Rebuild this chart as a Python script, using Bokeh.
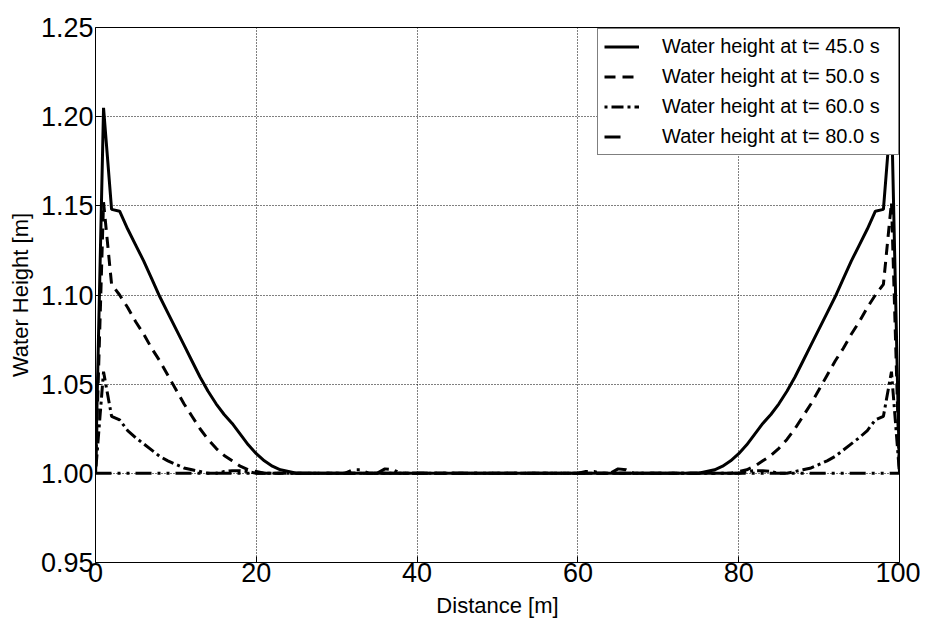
from bokeh.plotting import figure
from bokeh.models import Legend, LegendItem, Range1d, FixedTicker
from bokeh.embed import file_html
from bokeh.resources import INLINE

# ---- data ----
x_t45 = [0, 1, 2, 3, 4, 5, 6, 7, 8, 9, 10, 11, 12, 13, 14, 15, 16, 17, 18, 19, 20, 21, 22, 23, 24, 25,
         75, 76, 77, 78, 79, 80, 81, 82, 83, 84, 85, 86, 87, 88, 89, 90, 91, 92, 93, 94, 95, 96, 97, 98, 99, 100]
h_t45 = [1.000, 1.205, 1.148, 1.147, 1.137, 1.128, 1.119, 1.109, 1.099, 1.090, 1.081, 1.072, 1.063,
         1.054, 1.046, 1.039, 1.033, 1.028, 1.022, 1.016, 1.011, 1.007, 1.004, 1.002, 1.001, 1.000,
         1.000, 1.001, 1.002, 1.004, 1.007, 1.011, 1.016, 1.022, 1.028, 1.033, 1.039, 1.046, 1.054,
         1.063, 1.072, 1.081, 1.090, 1.099, 1.109, 1.119, 1.128, 1.137, 1.147, 1.148, 1.205, 1.000]

x_t50 = [0, 1, 2, 3, 4, 5, 6, 7, 8, 9, 10, 11, 12, 13, 14, 15, 16, 17, 18, 19, 20, 21,
         79, 80, 81, 82, 83, 84, 85, 86, 87, 88, 89, 90, 91, 92, 93, 94, 95, 96, 97, 98, 99, 100]
h_t50 = [1.000, 1.152, 1.106, 1.100, 1.093, 1.085, 1.078, 1.070, 1.063, 1.055, 1.047, 1.039,
         1.032, 1.025, 1.019, 1.014, 1.010, 1.007, 1.004, 1.002, 1.001, 1.000,
         1.000, 1.001, 1.002, 1.004, 1.007, 1.010, 1.014, 1.019, 1.025, 1.032, 1.039,
         1.047, 1.055, 1.063, 1.070, 1.078, 1.085, 1.093, 1.100, 1.106, 1.152, 1.000]

x_t60 = [0, 1, 2, 3, 4, 5, 6, 7, 8, 9, 10, 11, 12, 13, 14, 15, 16, 17, 18, 19, 20, 21,
         79, 80, 81, 82, 83, 84, 85, 86, 87, 88, 89, 90, 91, 92, 93, 94, 95, 96, 97, 98, 99, 100]
h_t60 = [1.000, 1.057, 1.032, 1.030, 1.024, 1.020, 1.0165, 1.013, 1.0095, 1.007, 1.005, 1.003,
         1.002, 1.001, 1.000, 1.000, 1.001, 1.0015, 1.0015, 1.001, 1.000, 1.000,
         1.000, 1.000, 1.001, 1.0015, 1.0015, 1.001, 1.000, 1.000, 1.001, 1.002, 1.003,
         1.005, 1.007, 1.0095, 1.013, 1.0165, 1.020, 1.024, 1.030, 1.032, 1.057, 1.000]

x_t80 = [0, 31, 32, 33, 34, 35, 36, 37, 38, 60, 61, 62, 63, 64, 65, 66, 67, 100]
h_t80 = [1.000, 1.000, 1.002, 1.002, 1.000, 1.000, 1.0025, 1.002, 1.000,
         1.000, 1.001, 1.001, 1.000, 1.000, 1.0025, 1.002, 1.000, 1.000]

labels = ["Water height at t= 45.0 s", "Water height at t= 50.0 s",
          "Water height at t= 60.0 s", "Water height at t= 80.0 s"]

x_ticks = [0, 20, 40, 60, 80, 100]
y_ticks = [0.95, 1.00, 1.05, 1.10, 1.15, 1.20, 1.25]
y_tick_text = {0.95: "0.95", 1.0: "1.00", 1.05: "1.05", 1.1: "1.10", 1.15: "1.15", 1.2: "1.20", 1.25: "1.25"}

FONT = "Liberation Sans"

p = figure(width=920, height=625, output_backend="svg", toolbar_location=None,
           x_range=Range1d(0, 100), y_range=Range1d(0.95, 1.25),
           min_border_left=95, min_border_right=21, min_border_top=27, min_border_bottom=63)

p.outline_line_color = "black"
p.outline_line_width = 1
p.background_fill_color = "white"
p.border_fill_color = "white"

for g in (p.xgrid, p.ygrid):
    g.grid_line_color = "black"
    g.grid_line_dash = "1 2"
    g.grid_line_width = 1

p.xaxis.ticker = FixedTicker(ticks=x_ticks)
p.yaxis.ticker = FixedTicker(ticks=y_ticks)
p.yaxis.major_label_overrides = y_tick_text

for ax in (p.xaxis, p.yaxis):
    ax.axis_line_color = None
    ax.major_tick_in = 6
    ax.major_tick_out = 0
    ax.minor_tick_in = 0
    ax.minor_tick_out = 0
    ax.major_tick_line_color = "black"
    ax.major_label_text_font = FONT
    ax.major_label_text_font_size = "27px"
    ax.major_label_text_color = "black"
    ax.axis_label_text_font = FONT
    ax.axis_label_text_font_size = "22px"
    ax.axis_label_text_font_style = "normal"
    ax.axis_label_text_color = "black"

p.xaxis.axis_label = "Distance [m]"
p.yaxis.axis_label = "Water Height [m]"
p.xaxis.major_label_standoff = 0
p.xaxis.axis_label_standoff = 8
p.yaxis.major_label_standoff = 2
p.yaxis.axis_label_standoff = 5

r45 = p.line(x_t45, h_t45, line_color="black", line_width=3)
r50 = p.line(x_t50, h_t50, line_color="black", line_width=3, line_dash="11 7")
r60 = p.line(x_t60, h_t60, line_color="black", line_width=3, line_dash="12 4 3 4", line_dash_offset=16)
r80 = p.line(x_t80, h_t80, line_color="black", line_width=3, line_dash="16 6 3 6 3 6")
# legend handle for the t=80 s series shows a single long dash, as in the reference legend
r80_key = p.line(x_t80, h_t80, line_color="black", line_width=3, line_dash="16 22", visible=False)

legend = Legend(items=[LegendItem(label=labels[0], renderers=[r45]),
                       LegendItem(label=labels[1], renderers=[r50]),
                       LegendItem(label=labels[2], renderers=[r60]),
                       LegendItem(label=labels[3], renderers=[r80_key])],
                location=(502, 407))
legend.margin = 0
legend.padding = 6
legend.spacing = 7
legend.label_height = 23
legend.glyph_height = 23
legend.glyph_width = 35
legend.label_standoff = 23
legend.label_width = 230
legend.label_text_font = FONT
legend.label_text_font_size = "20px"
legend.label_text_color = "black"
legend.border_line_color = "black"
legend.border_line_width = 1
legend.background_fill_color = "white"
legend.background_fill_alpha = 1.0
p.add_layout(legend)

open("out.html", "w").write(file_html(p, INLINE))
